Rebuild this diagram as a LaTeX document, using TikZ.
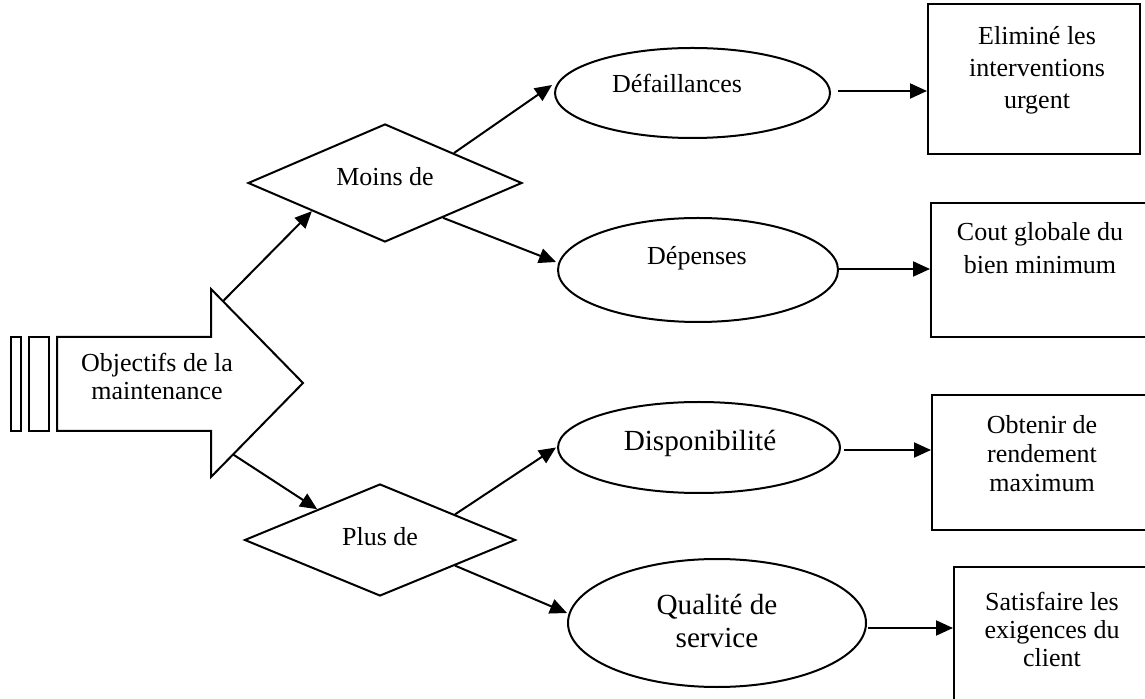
\documentclass[tikz,border=0pt]{standalone}
\usepackage{fontspec}
\setmainfont{Liberation Serif}
\usetikzlibrary{shapes.geometric,arrows.meta,calc}
\begin{document}
\begin{tikzpicture}[x=0.5pt,y=-0.5pt,
  line width=1pt,
  every node/.style={font=\fontsize{13}{15}\selectfont},
  txt/.style={align=center, inner sep=0pt},
  bigtxt/.style={txt, font=\fontsize{14.6}{16.5}\selectfont},
  ell/.style={draw, ellipse, inner sep=0pt},
  dia/.style={draw, diamond, inner sep=0pt},
  goal/.style={draw, rectangle, inner sep=0pt},
  arr/.style={-{Triangle[length=8.5pt,width=7.5pt]}},
]
\useasboundingbox (0,0) rectangle (1145,699);
\clip (0,0) rectangle (1145,699);

% main block arrow with its two tail bars
\coordinate (hd1) at (211,289);
\coordinate (tip) at (303,383);
\coordinate (hd2) at (211,477);
\draw (57,337) -- (211,337) -- (hd1) -- (tip) -- (hd2) -- (211,431) -- (57,431) -- cycle;
\draw (11,337) rectangle (21,431);
\draw (29,337) rectangle (49,431);
\node[txt, font=\fontsize{13}{14}\selectfont] (obj) at (157,376) {Objectifs de la\\maintenance};

% decision diamonds
\node[dia, minimum width=137pt, minimum height=59pt] (moins) at (385,183) {};
\node[dia, minimum width=135.5pt, minimum height=56pt] (plus) at (380,540) {};
\node[txt] (moinsT) at (385,177) {Moins de};
\node[txt] (plusT) at (380,537) {Plus de};

% objectives
\node[ell, minimum width=137.5pt, minimum height=45pt] (def) at (692.5,93) {};
\node[ell, minimum width=140pt, minimum height=52pt] (dep) at (698,270) {};
\node[ell, minimum width=141pt, minimum height=45.5pt] (dis) at (699,447.5) {};
\node[ell, minimum width=149pt, minimum height=64pt] (qua) at (717,623) {};
\node[txt] (defT) at (677,83) {Défaillances};
\node[txt] (depT) at (697,258) {Dépenses};
\node[bigtxt] (disT) at (700,443) {Disponibilité};
\node[bigtxt] (quaT) at (717,621) {Qualité de\\service};

% results
\node[goal, minimum width=106pt, minimum height=75pt] (b1) at (1034,79) {};
\node[goal, minimum width=109.5pt, minimum height=67pt] (b2) at (1040.5,270) {};
\node[goal, minimum width=109pt, minimum height=67.5pt] (b3) at (1041,462.5) {};
\node[goal, minimum width=103pt, minimum height=71.5pt] (b4) at (1057,638.5) {};
\node[txt, font=\fontsize{13}{16}\selectfont] (b1T) at (1037,70) {Eliminé les\\interventions\\urgent};
\node[txt, font=\fontsize{13}{16.5}\selectfont] (b2T) at (1040,248) {Cout globale du\\bien minimum};
\node[txt, font=\fontsize{13}{14.5}\selectfont] (b3T) at (1042,454) {Obtenir de\\rendement\\maximum};
\node[txt, font=\fontsize{13}{14}\selectfont] (b4T) at (1052,629) {Satisfaire les\\exigences du\\client};

% connectors
\coordinate (up) at ($(hd1)!0.13!(tip)$);
\coordinate (dn) at ($(hd2)!0.24!(tip)$);
\draw[arr] (up) -- ($(moins.west)!0.47!(moins.south)$);
\draw[arr] (dn) -- ($(plus.west)!0.54!(plus.north)$);

\draw[arr] ($(moins.north)!0.5!(moins.east)$) -- ($(def.west)+(-2,-8)$);
\draw[arr] ($(moins.east)!0.58!(moins.south)$) -- ($(dep.west)+(-1,-8)$);
\draw[arr] ($(plus.north)!0.55!(plus.east)$) -- ($(dis.west)+(-1,0)$);
\draw[arr] ($(plus.east)!0.45!(plus.south)$) -- ($(qua.west)+(0,-10)$);

\coordinate (r1) at ($(def.east)+(7,-2)$);
\coordinate (r2) at ($(dep.east)+(0,-1)$);
\coordinate (r3) at ($(dis.east)+(3,2.5)$);
\coordinate (r4) at ($(qua.east)+(1,5)$);
\draw[arr] (r1) -- (r1 -| b1.west);
\draw[arr] (r2) -- (r2 -| b2.west);
\draw[arr] (r3) -- (r3 -| b3.west);
\draw[arr] (r4) -- (r4 -| b4.west);
\end{tikzpicture}
\end{document}
